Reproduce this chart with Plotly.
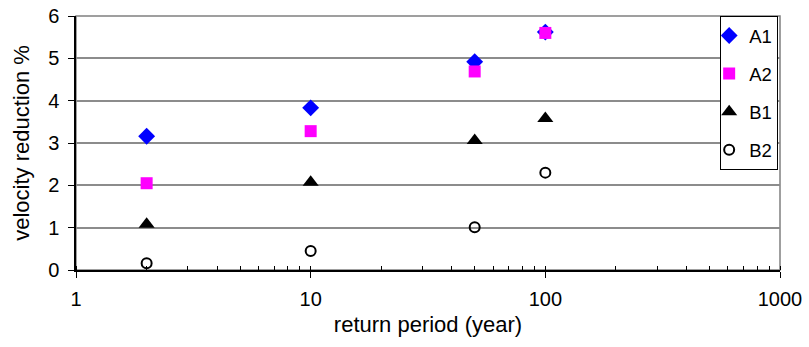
import plotly.graph_objects as go

# Return periods (years) and velocity reductions (%) for each scenario
return_period = [2, 10, 50, 100]
a1 = [3.16, 3.83, 4.92, 5.62]
a2 = [2.05, 3.28, 4.69, 5.60]
b1 = [1.08, 2.07, 3.06, 3.58]
b2 = [0.16, 0.45, 1.01, 2.30]

x_ticks = [1, 10, 100, 1000]
y_ticks = [0, 1, 2, 3, 4, 5, 6]

FONT = "Liberation Sans, Arial, sans-serif"
FS = 18.5
TICK_FS = 20

series = [
    ("A1", a1, dict(symbol="diamond", size=13, color="#0000FF")),
    ("A2", a2, dict(symbol="square", size=12, color="#FF00FF")),
    ("B1", b1, dict(symbol="triangle-up", size=14, color="#000000")),
    ("B2", b2, dict(symbol="circle-open", size=10, color="#000000",
                    line=dict(width=2, color="#000000"))),
]

fig = go.Figure()
for name, vals, marker in series:
    fig.add_trace(go.Scatter(
        x=return_period, y=vals, name=name, mode="markers",
        marker=marker, legendgroup=name,
    ))

# Plot-area border (top and right edges in gray)
fig.add_shape(type="rect", xref="paper", yref="paper", x0=0, y0=0, x1=1, y1=1,
              line=dict(color="#808080", width=1.5), layer="below")

fig.update_layout(
    width=809, height=347,
    margin=dict(l=76, r=29, t=16, b=77, autoexpand=False),
    paper_bgcolor="white", plot_bgcolor="white",
    font=dict(family=FONT, size=FS, color="black"),
    showlegend=True,
    legend=dict(
        x=0.915, y=1.0, xanchor="left", yanchor="top",
        bgcolor="white", bordercolor="black", borderwidth=1,
        font=dict(size=FS), tracegroupgap=11, indentation=-12,
    ),
    xaxis=dict(
        type="log", range=[0, 3], automargin=False,
        tickvals=x_ticks, ticktext=[str(v) for v in x_ticks],
        ticks="outside", ticklen=6, tickcolor="black",
        showline=True, linecolor="black", linewidth=1.5,
        showgrid=False, zeroline=False,
        minor=dict(ticks="inside", ticklen=4, tickcolor="black", dtick="D1", showgrid=False),
        title=dict(text="return period (year)", standoff=8),
        tickfont=dict(size=TICK_FS), ticklabelstandoff=4,
    ),
    yaxis=dict(
        range=[0, 6], tickvals=y_ticks, automargin=False,
        ticks="outside", ticklen=6, tickcolor="black",
        showline=True, linecolor="black", linewidth=1.5,
        showgrid=True, gridcolor="#8c8c8c", gridwidth=1.5,
        zeroline=False,
        title=dict(text="velocity reduction %", standoff=12),
        tickfont=dict(size=TICK_FS), ticklabelstandoff=5,
    ),
)

fig.write_html("out.html")
